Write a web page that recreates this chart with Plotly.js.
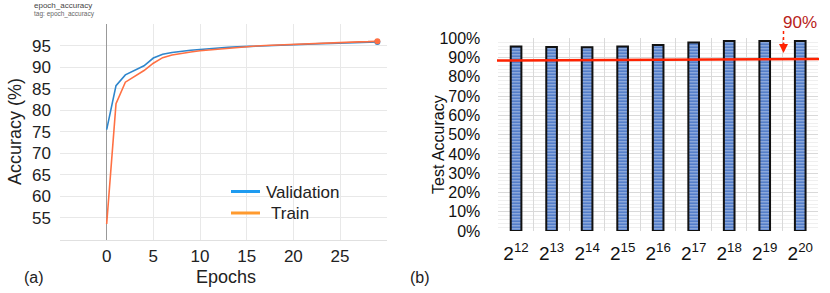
<!DOCTYPE html>
<html><head><meta charset="utf-8">
<script src="https://cdn.plot.ly/plotly-3.0.1.min.js"></script>
<style>html,body{margin:0;padding:0;background:#fff;}#chart{width:830px;height:293px;}</style>
</head><body><div id="chart"></div>
<script>
// ---- data (a) ----
const epochs = [0,1,2,3,4,5,6,7,8,9,10,11,12,13,14,15,16,17,18,19,20,21,22,23,24,25,26,27,28,29];
const validationAcc = [75.5,85.7,88.2,89.2,90.3,92.1,93.0,93.4,93.7,93.9,94.1,94.3,94.5,94.6,94.7,94.8,94.9,95.0,95.1,95.2,95.25,95.3,95.4,95.45,95.5,95.6,95.65,95.7,95.8,95.85];
const trainAcc = [53.6,81.5,86.5,87.8,89.2,90.9,92.2,92.8,93.2,93.5,93.8,94.0,94.2,94.4,94.6,94.75,94.9,95.0,95.1,95.2,95.3,95.4,95.45,95.55,95.6,95.7,95.8,95.85,95.9,96.0];
const accTicks = [55,60,65,70,75,80,85,90,95];
const epochTicks = [-5,0,5,10,15,20,25,30];
const epochTickText = ["","0","5","10","15","20","25",""];
const seriesNames = ["Validation","Train"];
// ---- data (b) ----
const sizes = ["2^12","2^13","2^14","2^15","2^16","2^17","2^18","2^19","2^20"];
const sizeLabels = ["2<sup>12</sup>","2<sup>13</sup>","2<sup>14</sup>","2<sup>15</sup>","2<sup>16</sup>","2<sup>17</sup>","2<sup>18</sup>","2<sup>19</sup>","2<sup>20</sup>"];
const testAcc = [0.957,0.955,0.953,0.957,0.965,0.978,0.986,0.986,0.986];
const thresholdLine = [0.885, 0.893];
const pctTicks = [0,0.1,0.2,0.3,0.4,0.5,0.6,0.7,0.8,0.9,1.0];
const pctLabels = ["0%","10%","20%","30%","40%","50%","60%","70%","80%","90%","100%"];

const W=830,H=293;
const px=v=>v/W, py=v=>1-v/H;
const last = epochs.length-1;
const FONT = "Liberation Sans, Arial, sans-serif";

const traces = [
  {x:epochs,y:validationAcc,type:'scatter',mode:'lines',line:{color:'#2f86cc',width:1.6},xaxis:'x',yaxis:'y'},
  {x:epochs,y:trainAcc,type:'scatter',mode:'lines',line:{color:'#ff7043',width:1.6},xaxis:'x',yaxis:'y'},
  {x:[epochs[last]],y:[validationAcc[last]],type:'scatter',mode:'markers',marker:{color:'#2f86cc',size:6},xaxis:'x',yaxis:'y'},
  {x:[epochs[last]],y:[trainAcc[last]],type:'scatter',mode:'markers',marker:{color:'#ff7043',size:6},xaxis:'x',yaxis:'y'},
  {x:sizes,y:testAcc,type:'bar',width:0.3,xaxis:'x2',yaxis:'y2',
   marker:{color:'#4472c4',line:{color:'#111',width:2},
     pattern:{shape:'-',fgcolor:'#ffffff',bgcolor:'#4472c4',fillmode:'overlay',size:3,solidity:0.45}}}
];

const layout = {
  width:W,height:H,margin:{l:0,r:0,t:0,b:0},
  paper_bgcolor:'#fff',plot_bgcolor:'#fff',
  font:{family:FONT,color:'#222'},
  showlegend:false,
  xaxis:{domain:[px(60),px(386.7)],range:[-5,30],tickvals:epochTicks,ticktext:epochTickText,showgrid:true,gridcolor:'#e8e8e8',
    zeroline:true,zerolinecolor:'#999',zerolinewidth:1,showline:true,linecolor:'#e0e0e0',
    tickfont:{size:17,color:'#222'},ticks:'',ticklabelstandoff:1,anchor:'y',fixedrange:true},
  yaxis:{domain:[py(239.5),py(24)],range:[50,100],tickvals:accTicks,showgrid:true,gridcolor:'#e8e8e8',
    zeroline:false,showline:false,tickfont:{size:17,color:'#222'},ticks:'',ticklabelstandoff:8,anchor:'x'},
  xaxis2:{domain:[px(498.3),px(818)],type:'category',categoryorder:'array',categoryarray:sizes,
    tickvals:sizes,ticktext:sizeLabels,range:[-0.5,8.5],tickson:'boundaries',showgrid:true,gridcolor:'#d9d9d9',
    showline:false,zeroline:false,ticks:'',tickfont:{size:19,color:'#111'},ticklabelstandoff:9,anchor:'y2'},
  yaxis2:{domain:[py(231),py(38.3)],range:[0,1],tickvals:pctTicks,ticktext:pctLabels,showgrid:true,gridcolor:'#d9d9d9',
    minor:{dtick:0.02,showgrid:true,gridcolor:'#efefef',ticks:''},
    zeroline:false,showline:false,ticks:'',tickfont:{size:16,color:'#111'},ticklabelstandoff:17,anchor:'x2'},
  shapes:[
    {type:'line',xref:'paper',yref:'y2',x0:px(497),x1:px(819),y0:thresholdLine[0],y1:thresholdLine[1],line:{color:'#ff2200',width:2.5}},
    {type:'line',xref:'paper',yref:'paper',x0:px(783.5),x1:px(783.5),y0:py(31),y1:py(45),line:{color:'#ff2200',width:1.5,dash:'dot'}},
    {type:'line',xref:'paper',yref:'paper',x0:px(231),x1:px(260),y0:py(191.5),y1:py(191.5),line:{color:'#1e9bf0',width:3}},
    {type:'line',xref:'paper',yref:'paper',x0:px(231),x1:px(260),y0:py(213),y1:py(213),line:{color:'#ff9a2e',width:3}}
  ],
  annotations:[
    {text:seriesNames[0],xref:'paper',yref:'paper',x:px(264),y:py(192),xanchor:'left',yanchor:'middle',showarrow:false,font:{size:17,color:'#222'}},
    {text:seriesNames[1],xref:'paper',yref:'paper',x:px(269),y:py(213.5),xanchor:'left',yanchor:'middle',showarrow:false,font:{size:17,color:'#222'}},
    {text:'epoch_accuracy',xref:'paper',yref:'paper',x:px(32),y:py(6),xanchor:'left',yanchor:'middle',showarrow:false,font:{size:8,color:'#444'}},
    {text:'tag: epoch_accuracy',xref:'paper',yref:'paper',x:px(32),y:py(14.5),xanchor:'left',yanchor:'middle',showarrow:false,font:{size:6.5,color:'#666'}},
    {text:'Accuracy (%)',xref:'paper',yref:'paper',x:px(15),y:py(132),textangle:-90,xanchor:'center',yanchor:'middle',showarrow:false,font:{size:18,color:'#222'}},
    {text:'Epochs',xref:'paper',yref:'paper',x:px(226),y:py(277),xanchor:'center',yanchor:'middle',showarrow:false,font:{size:18,color:'#222'}},
    {text:'(a)',xref:'paper',yref:'paper',x:px(34),y:py(277),xanchor:'center',yanchor:'middle',showarrow:false,font:{size:16,color:'#222'}},
    {text:'(b)',xref:'paper',yref:'paper',x:px(420),y:py(277),xanchor:'center',yanchor:'middle',showarrow:false,font:{size:16,color:'#222'}},
    {text:'Test Accuracy',xref:'paper',yref:'paper',x:px(438),y:py(145),textangle:-90,xanchor:'center',yanchor:'middle',showarrow:false,font:{size:16,color:'#111'}},
    {text:'90%',xref:'paper',yref:'paper',x:px(800),y:py(22),xanchor:'center',yanchor:'middle',showarrow:false,font:{size:17,color:'#b8221a'}},
    {text:'',xref:'paper',yref:'paper',x:px(783.5),y:py(53),ax:0,ay:-12,showarrow:true,arrowhead:2,arrowsize:1.2,arrowwidth:1.5,arrowcolor:'#ff2200'}
  ]
};
Plotly.newPlot('chart',traces,layout,{staticPlot:true,displayModeBar:false});
</script></body></html>
